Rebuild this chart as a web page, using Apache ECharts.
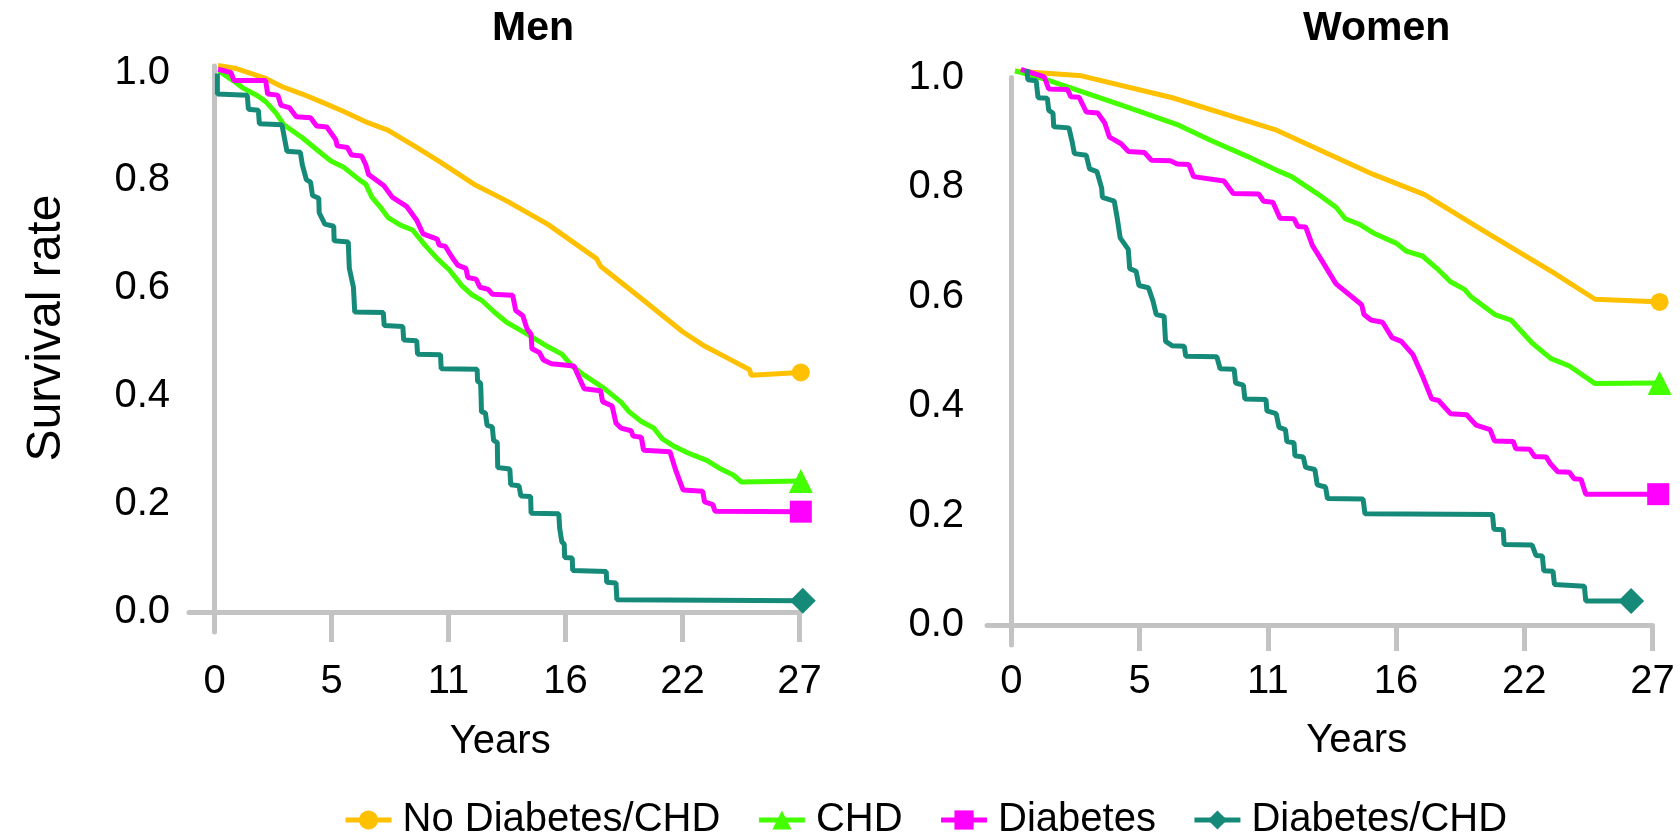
<!DOCTYPE html>
<html><head><meta charset="utf-8">
<script src="https://cdn.jsdelivr.net/npm/echarts@6/dist/echarts.min.js"></script>
<style>html,body{margin:0;padding:0;background:#fff}#c{width:1680px;height:837px}</style>
</head><body><div id="c"></div>
<script>
const seriesNames = ['No Diabetes/CHD', 'CHD', 'Diabetes', 'Diabetes/CHD'];
const panelTitles = ['Men', 'Women'];
const xTickValues = [0, 5.4, 10.8, 16.2, 21.6, 27];
const yTickValues = [0, 0.2, 0.4, 0.6, 0.8, 1.0];

// Men
const menNoDiab = [[0.16,1.013],[0.94,1.008],[2.36,0.989],[3.1,0.974],[4.05,0.96],[4.9,0.946],[5.94,0.928],[7.07,0.907],[8.0,0.893],[9.33,0.861],[10.46,0.833],[11.97,0.793],[13.48,0.762],[15.37,0.719],[17.63,0.655],[17.82,0.641],[19.7,0.581],[21.59,0.52],[22.53,0.495],[23.66,0.471],[24.7,0.449],[24.76,0.439],[27.06,0.444]];
const menCHD = [[0.2,1.003],[0.85,0.985],[1.32,0.971],[1.98,0.957],[2.36,0.946],[2.83,0.925],[3.2,0.903],[4.05,0.879],[4.81,0.854],[5.37,0.836],[5.94,0.825],[6.69,0.801],[6.98,0.793],[7.26,0.769],[7.64,0.751],[8.01,0.731],[8.58,0.717],[9.14,0.708],[9.71,0.68],[10.28,0.655],[10.84,0.634],[11.41,0.605],[11.88,0.588],[12.35,0.577],[12.91,0.556],[13.48,0.537],[14.05,0.524],[14.61,0.511],[15.37,0.492],[16.03,0.478],[16.5,0.456],[17.06,0.439],[18.0,0.414],[18.76,0.389],[19.14,0.371],[19.7,0.353],[20.27,0.341],[20.64,0.322],[21.21,0.307],[21.96,0.293],[22.72,0.281],[23.28,0.267],[23.94,0.254],[24.32,0.241],[27.06,0.243]];
const menDiab = [[0.16,1.006],[0.75,1.0],[0.9,0.985],[2.36,0.985],[2.45,0.96],[2.92,0.958],[3.07,0.939],[3.45,0.935],[3.77,0.918],[4.43,0.916],[4.71,0.901],[5.18,0.899],[5.6,0.875],[5.66,0.864],[6.13,0.861],[6.32,0.847],[6.79,0.845],[6.98,0.829],[7.11,0.811],[7.82,0.79],[8.2,0.769],[8.86,0.752],[9.33,0.726],[9.62,0.701],[10.28,0.691],[10.37,0.68],[10.65,0.678],[10.94,0.659],[11.22,0.643],[11.6,0.637],[11.69,0.62],[12.07,0.617],[12.25,0.602],[12.63,0.598],[12.82,0.589],[13.76,0.587],[13.9,0.559],[14.23,0.549],[14.42,0.525],[14.61,0.515],[14.65,0.488],[14.99,0.481],[15.18,0.467],[15.55,0.46],[16.59,0.456],[16.78,0.439],[17.06,0.414],[17.82,0.41],[17.91,0.39],[18.35,0.382],[18.53,0.35],[18.76,0.341],[19.23,0.336],[19.32,0.326],[19.7,0.324],[19.8,0.3],[21.02,0.297],[21.3,0.261],[21.63,0.226],[22.53,0.224],[22.62,0.204],[23.0,0.199],[23.1,0.187],[27.06,0.186]];
const menDiabCHD = [[0.13,0.998],[0.13,0.96],[1.51,0.958],[1.56,0.932],[2.02,0.93],[2.07,0.905],[3.11,0.903],[3.34,0.854],[3.96,0.852],[4.05,0.829],[4.24,0.801],[4.43,0.797],[4.52,0.772],[4.81,0.767],[4.83,0.74],[5.09,0.719],[5.5,0.715],[5.52,0.688],[6.17,0.686],[6.22,0.637],[6.41,0.602],[6.47,0.556],[7.79,0.555],[7.83,0.531],[8.69,0.529],[8.73,0.504],[9.33,0.503],[9.37,0.478],[10.43,0.477],[10.46,0.451],[12.12,0.45],[12.14,0.428],[12.28,0.424],[12.3,0.403],[12.32,0.371],[12.5,0.369],[12.58,0.346],[12.82,0.343],[12.88,0.318],[13.05,0.314],[13.07,0.268],[13.63,0.265],[13.67,0.236],[14.05,0.234],[14.14,0.215],[14.59,0.214],[14.61,0.183],[15.89,0.182],[15.93,0.155],[16.03,0.13],[16.14,0.126],[16.16,0.101],[16.51,0.1],[16.53,0.077],[18.08,0.075],[18.1,0.055],[18.53,0.054],[18.57,0.023],[27.15,0.021]];

// Women
const womenNoDiab = [[0.15,1.012],[2.95,1.003],[6.78,0.963],[11.1,0.905],[15.24,0.823],[17.4,0.786],[19.96,0.718],[22.81,0.644],[24.58,0.595],[27.3,0.59]];
const womenCHD = [[0.15,1.012],[1.47,0.996],[3.24,0.97],[4.82,0.947],[6.98,0.914],[8.36,0.886],[9.93,0.856],[11.31,0.828],[11.8,0.819],[12.88,0.788],[13.67,0.763],[14.06,0.742],[14.65,0.732],[15.24,0.716],[16.22,0.697],[16.62,0.683],[17.31,0.674],[18.0,0.648],[18.49,0.627],[19.08,0.613],[19.37,0.599],[20.36,0.567],[21.04,0.557],[21.93,0.515],[22.71,0.487],[23.5,0.473],[24.58,0.441],[27.3,0.442]];
const womenDiab = [[0.4,1.015],[1.38,1.001],[1.57,0.979],[2.36,0.978],[2.5,0.965],[2.85,0.964],[3.15,0.937],[3.64,0.935],[3.93,0.917],[4.13,0.891],[4.62,0.879],[4.92,0.865],[5.6,0.863],[5.9,0.849],[6.69,0.848],[6.98,0.842],[7.47,0.841],[7.67,0.819],[8.95,0.811],[9.34,0.788],[10.42,0.787],[10.62,0.774],[11.01,0.772],[11.31,0.743],[11.9,0.742],[12.06,0.728],[12.39,0.727],[12.68,0.693],[13.08,0.665],[13.67,0.623],[14.75,0.585],[14.85,0.567],[15.14,0.557],[15.63,0.553],[16.03,0.525],[16.42,0.518],[16.91,0.494],[17.31,0.455],[17.7,0.413],[17.99,0.41],[18.49,0.386],[19.17,0.384],[19.57,0.365],[20.16,0.357],[20.35,0.336],[21.14,0.335],[21.24,0.322],[21.83,0.321],[22.03,0.308],[22.52,0.307],[22.71,0.294],[23.01,0.28],[23.5,0.279],[23.7,0.267],[23.99,0.266],[24.19,0.239],[27.24,0.239]];
const womenDiabCHD = [[0.65,1.015],[0.69,0.996],[1.04,0.994],[1.12,0.963],[1.51,0.962],[1.57,0.94],[1.75,0.935],[1.78,0.91],[2.42,0.908],[2.56,0.882],[2.65,0.861],[3.15,0.858],[3.29,0.833],[3.6,0.828],[3.8,0.798],[3.83,0.781],[4.33,0.774],[4.46,0.742],[4.58,0.707],[4.92,0.686],[4.98,0.651],[5.25,0.646],[5.37,0.62],[5.77,0.616],[5.96,0.592],[6.1,0.567],[6.43,0.564],[6.49,0.518],[6.78,0.51],[7.28,0.509],[7.34,0.491],[8.65,0.49],[8.79,0.468],[9.38,0.467],[9.44,0.442],[9.77,0.438],[9.83,0.413],[10.72,0.412],[10.76,0.391],[11.15,0.386],[11.27,0.361],[11.54,0.357],[11.6,0.335],[11.9,0.333],[11.94,0.309],[12.29,0.307],[12.39,0.288],[12.78,0.284],[12.88,0.256],[13.23,0.252],[13.31,0.231],[14.81,0.23],[14.89,0.203],[20.26,0.202],[20.32,0.175],[20.71,0.174],[20.75,0.147],[21.93,0.146],[22.09,0.127],[22.36,0.126],[22.42,0.099],[22.81,0.098],[22.87,0.074],[24.13,0.071],[24.19,0.044],[26.1,0.044]];

const panelData = [
  [menNoDiab, menCHD, menDiab, menDiabCHD],
  [womenNoDiab, womenCHD, womenDiab, womenDiabCHD]
];

const colors = ['#FFC000', '#44FF00', '#FF00FF', '#168A78'];
const symbols = ['circle', 'triangle', 'rect', 'diamond'];
const symbolSizes = [18, 24, 22, 26];
const FONT = '"Liberation Sans", Arial, sans-serif';
const AXIS_GRAY = '#c3c3c3';

const grids = [
  { left: 189, top: 66, width: 610.5, height: 566 },
  { left: 987, top: 77.5, width: 665.5, height: 567.5 }
];
const xMins = [-1.18, -1.03];
const yMins = [-0.037, -0.0365];
const yMaxs = [1.012, 1.0];
const xLabelMargins = [30, 17];
const xTickLengths = [30, 26];
const yLabelMargins = [19, 23];
const xNameGaps = [90, 76];
const xNamePadLeft = [12, 74];

const chart = echarts.init(document.getElementById('c'), null, { renderer: 'canvas' });

const xAxes = [0, 1].map(i => ({
  type: 'value', gridIndex: i, min: xMins[i], max: 27,
  name: 'Years', nameLocation: 'middle', nameGap: xNameGaps[i],
  nameTextStyle: { fontSize: 40, color: '#000', fontFamily: FONT, padding: [0, 0, 0, xNamePadLeft[i]] },
  axisLine: { show: true, onZero: true, lineStyle: { color: AXIS_GRAY, width: 5 } },
  axisTick: { show: true, customValues: xTickValues.slice(1), length: xTickLengths[i], lineStyle: { color: AXIS_GRAY, width: 5 } },
  axisLabel: { customValues: xTickValues, formatter: v => String(Math.round(v)), fontSize: 40, color: '#000', fontFamily: FONT, margin: xLabelMargins[i] },
  splitLine: { show: false }
}));

const yAxes = [0, 1].map(i => ({
  type: 'value', gridIndex: i, min: yMins[i], max: yMaxs[i],
  name: i === 0 ? 'Survival rate' : '', nameLocation: 'middle', nameRotate: 90, nameGap: 118,
  nameTextStyle: { fontSize: 48, color: '#000', fontFamily: FONT, padding: [0, 0, 0, 42] },
  axisLine: { show: true, onZero: true, lineStyle: { color: AXIS_GRAY, width: 5 } },
  axisTick: { show: false },
  axisLabel: { customValues: yTickValues, formatter: v => v.toFixed(1), fontSize: 40, color: '#000', fontFamily: FONT, margin: yLabelMargins[i] },
  splitLine: { show: false }
}));

const series = [];
[0, 1].forEach(p => {
  panelData[p].forEach((data, k) => {
    const last = data.length - 1;
    series.push({
      name: seriesNames[k], type: 'line', xAxisIndex: p, yAxisIndex: p,
      data: data, clip: false, showAllSymbol: true,
      symbol: symbols[k],
      symbolSize: (val, params) => params.dataIndex === last ? symbolSizes[k] : 0,
      itemStyle: { color: colors[k] },
      lineStyle: { color: colors[k], width: 5 },
      emphasis: { disabled: true },
      z: 2 + k
    });
  });
});

chart.setOption({
  animation: false,
  backgroundColor: '#fff',
  title: [
    { text: panelTitles[0], left: 492, top: 8, padding: 0, textStyle: { fontSize: 41, fontWeight: 'bold', color: '#000', fontFamily: FONT } },
    { text: panelTitles[1], left: 1303, top: 8, padding: 0, textStyle: { fontSize: 41, fontWeight: 'bold', color: '#000', fontFamily: FONT } }
  ],
  legend: {
    data: seriesNames, left: 343, top: 800, padding: 0, itemGap: 36, itemWidth: 46, itemHeight: 24,
    lineStyle: { width: 5 },
    textStyle: { fontSize: 40, color: '#000', fontFamily: FONT, padding: [0, 0, 0, 6] }
  },
  grid: grids.map(g => Object.assign({ outerBoundsMode: 'none', containLabel: false }, g)),
  xAxis: xAxes,
  yAxis: yAxes,
  series: series
});
</script>
</body></html>
